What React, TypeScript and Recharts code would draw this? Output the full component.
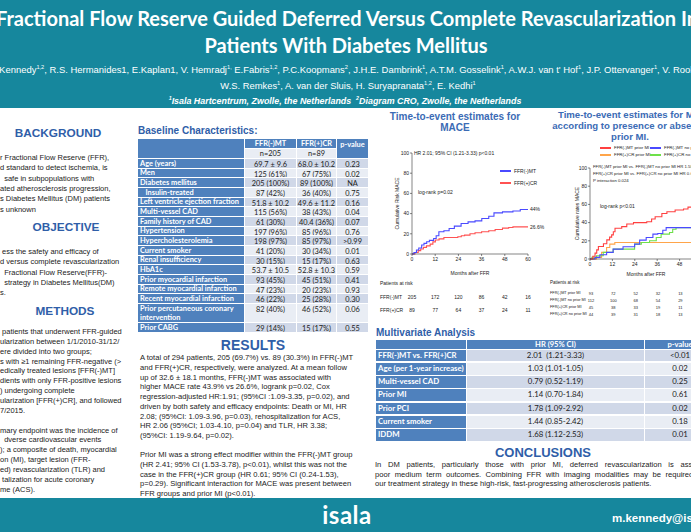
import React from 'react';
import { LineChart, Line, XAxis, YAxis, Label } from 'recharts';

const TEAL = '#16879d';
const HEAD = '#2f5ea8';
const CELL_BLUE = '#4f81bd';
const CELL_DARK = '#d0d8e8';
const CELL_LIGHT = '#e9edf4';

const monthTicks = [0, 12, 24, 36, 48, 60];
const riskTicks = [0, 20, 40, 60, 80, 100];

// MACE by FFR strategy (months after FFR, cumulative %)
const mtMonths = [0, 1, 2.3, 3.5, 5, 6.2, 7.6, 9, 11.2, 12.5, 13.9, 16.5, 19.2, 21.9, 25.4, 29, 32.6, 36.1, 39.7, 42.4, 46.8, 52.2, 56, 60];
const mtRisk = [0, 1.5, 3.9, 6, 8.9, 10.5, 12.1, 13.5, 15.4, 18, 22, 23, 25.3, 27.6, 30.2, 31.8, 32.8, 35.1, 37.4, 40.7, 41.7, 42.6, 44, 44];
const crMonths = [0, 1.5, 3.2, 4.5, 5.9, 7.5, 9.4, 10.8, 12.1, 14, 16.5, 23.7, 25.5, 27.2, 30, 32.6, 36, 39.7, 43, 46.8, 50, 52.2, 60];
const crRisk = [0, 1.5, 3.3, 5, 6.6, 8, 9.8, 12, 13.8, 15, 16.4, 17.1, 18, 18.7, 20, 21, 22, 23, 24.3, 25.6, 26.2, 26.9, 26.9];

// MACE by prior MI
const mtPriorMonths = [0, 1.5, 2.7, 3.6, 4.5, 7.2, 9, 10.5, 11.6, 12.5, 13.4, 17, 19.7, 23.3, 30.4, 33, 34.9, 38.5, 41.2, 45.6, 50.1, 52.5, 60];
const mtPriorRisk = [0, 3, 6.5, 10, 13.8, 16.7, 21, 24, 26.5, 30, 33.8, 35.6, 38.5, 40, 41, 44, 46.5, 50, 52, 53.8, 55, 57, 58];
const mtNoPriorMonths = [0, 2.7, 5.3, 8.9, 12.4, 17.7, 23.9, 26.6, 30.1, 33.7, 36.3, 39, 40.8, 60];
const mtNoPriorRisk = [0, 1.8, 4.7, 7.3, 10.9, 13.5, 16.4, 20.7, 23.6, 27.3, 28, 31.6, 34.5, 34.5];
const crPriorMonths = [0, 3.5, 6.2, 8.9, 10.6, 13.3, 60];
const crPriorRisk = [0, 1.8, 7.3, 12.7, 16.4, 18.2, 18.2];
const crNoPriorMonths = [0, 1, 3.5, 7.1, 12.4, 23.9, 27.5, 31.9, 35.5, 38.1, 42.6, 44.3, 46.1, 60];
const crNoPriorRisk = [0, 2, 3.6, 7.3, 10.9, 16.4, 18.2, 20, 23.6, 27.3, 29.1, 32.7, 34.5, 34.5];

const atRisk1 = [
  { name: 'FFR(-)MT', n: [205, 172, 120, 86, 42, 16] },
  { name: 'FFR(+)CR', n: [89, 77, 64, 37, 24, 11] },
];
const atRisk2 = [
  { name: 'FFR(-)MT prior MI', n: [93, 72, 52, 32, 13] },
  { name: 'FFR(-)MT no prior MI', n: [112, 100, 68, 54, 29] },
  { name: 'FFR(+)CR prior MI', n: [45, 38, 33, 19, 11] },
  { name: 'FFR(+)CR no prior MI', n: [44, 39, 31, 18, 13] },
];

const baseLabels = ['Age (years)', 'Men', 'Diabetes mellitus', '   Insulin-treated', 'Left ventricle ejection fraction', 'Multi-vessel CAD', 'Family history of CAD', 'Hypertension', 'Hypercholesterolemia', 'Current smoker', 'Renal insufficiency', 'HbA1c', 'Prior myocardial infarction', 'Remote myocardial infarction', 'Recent myocardial infarction', 'Prior percutaneous coronary intervention', 'Prior CABG'];
const baseMT = ['69.7 ± 9.6', '125 (61%)', '205 (100%)', '87 (42%)', '51.8 ± 10.2', '115 (56%)', '61 (30%)', '197 (96%)', '198 (97%)', '41 (20%)', '30 (15%)', '53.7 ± 10.5', '93 (45%)', '47 (23%)', '46 (22%)', '82 (40%)', '29 (14%)'];
const baseCR = ['68.0 ± 10.2', '67 (75%)', '89 (100%)', '36 (40%)', '49.6 ± 11.2', '38 (43%)', '40.4 (36%)', '85 (96%)', '85 (97%)', '30 (34%)', '15 (17%)', '52.8 ± 10.3', '45 (51%)', '20 (23%)', '25 (28%)', '46 (52%)', '15 (17%)'];
const baseP = ['0.23', '0.02', 'NA', '0.75', '0.16', '0.04', '0.07', '0.76', '>0.99', '0.01', '0.63', '0.59', '0.41', '0.93', '0.30', '0.06', '0.55'];

const mvLabels = ['FFR(-)MT vs. FFR(+)CR', 'Age (per 1-year increase)', 'Multi-vessel CAD', 'Prior MI', 'Prior PCI', 'Current smoker', 'IDDM'];
const mvHR = ['2.01  (1.21-3.33)', '1.03 (1.01-1.05)', '0.79 (0.52-1.19)', '1.14 (0.70-1.84)', '1.78 (1.09-2.92)', '1.44 (0.85-2.42)', '1.68 (1.12-2.53)'];
const mvP = ['<0.01', '0.02', '0.25', '0.61', '0.02', '0.18', '0.01'];

const backgroundText = ['r Fractional Flow Reserve (FFR),', 'd standard to detect ischemia, is', '  safe in subpopulations with', 'ated atherosclerosis progression,', 's Diabetes Mellitus (DM) patients', 's unknown'];
const objectiveText = [' ess the safety and efficacy of', 'd versus complete revascularization', '  Fractional Flow Reserve(FFR)-', '  strategy in Diabetes Mellitus(DM)', 's.'];
const methodsText = [' patients that underwent FFR-guided', 'ularization between 1/1/2010-31/12/', 'ere divided into two groups;', 's with ≥1 remaining FFR-negative (>', 'edically treated lesions [FFR(-)MT]', 'dients with only FFR-positive lesions', ') undergoing complete', 'ularization [FFR(+)CR], and followed', '7/2015.', '', 'mary endpoint was the incidence of', '  dverse cardiovascular events', '); a composite of death, myocardial', 'on (MI), target lesion (FFR-', 'ed) revascularization (TLR) and', ' talization for acute coronary', 'me (ACS).'];

const resultsText = [
  'A total of 294 patients, 205 (69.7%) vs. 89 (30.3%) in FFR(-)MT',
  'and FFR(+)CR, respectively, were analyzed. At a mean follow',
  'up of 32.6 ± 18.1 months, FFR(-)MT was associated with',
  'higher MACE rate 43.9% vs 26.6%, logrank p=0.02, Cox',
  'regression-adjusted HR:1.91; (95%CI :1.09-3.35, p=0.02), and',
  'driven by both safety and efficacy endpoints: Death or MI, HR',
  '2.08; (95%CI: 1.09-3.96, p=0.03), rehospitalization for ACS,',
  'HR 2.06 (95%CI; 1.03-4.10, p=0.04) and TLR, HR 3.38;',
  '(95%CI: 1.19-9.64, p=0.02).',
  '',
  'Prior MI was a strong effect modifier within the FFR(-)MT group',
  '(HR 2.41; 95% CI (1.53-3.78), p<0.01), whilst this was not the',
  'case in the FFR(+)CR group (HR 0.61; 95% CI (0.24-1.53),',
  'p=0.29). Significant interaction for MACE was present between',
  'FFR groups and prior MI (p<0.01).',
];

const conclusionText = [
  'In DM patients, particularly those with prior MI, deferred revascularization is associated with',
  'poor medium term outcomes. Combining FFR with imaging modalities may be required to optimize',
  'our treatment strategy in these high-risk, fast-progressing atherosclerosis patients.',
];

const toKm = (m: number[], v: number[]) => m.map((x, i) => ({ m: x, v: v[i] }));

type TP = { x: number; y: number; s: number; c?: string; b?: boolean; i?: boolean; a?: 'l' | 'c' | 'r'; f?: string; children: React.ReactNode; st?: React.CSSProperties };
const T = ({ x, y, s, c = '#222', b, i, a = 'l', f, children, st }: TP) => (
  <div
    style={{
      position: 'absolute', left: x, top: y, fontSize: s, color: c, fontWeight: b ? 700 : 400,
      fontStyle: i ? 'italic' : 'normal', whiteSpace: 'pre', lineHeight: 1, fontFamily: f,
      transform: `translate(${a === 'c' ? '-50%' : a === 'r' ? '-100%' : '0'}, -50%)`, ...st,
    }}
  >
    {children}
  </div>
);

const Sup = ({ children }: { children: React.ReactNode }) => (
  <sup style={{ fontSize: '0.6em', verticalAlign: 'super', lineHeight: 0 }}>{children}</sup>
);

const Box = ({ x, y, w, h, bg, children, a = 'c', c = '#222', b, s = 7.4 }: any) => (
  <div
    style={{
      position: 'absolute', left: x, top: y, width: w, height: h, background: bg, color: c,
      fontWeight: b ? 700 : 400, fontSize: s, fontFamily: 'Lato, sans-serif', display: 'flex',
      alignItems: 'center', justifyContent: a === 'c' ? 'center' : 'flex-start', paddingLeft: a === 'c' ? 0 : 2,
      boxSizing: 'border-box', whiteSpace: 'pre-wrap', lineHeight: 1.25, overflow: 'hidden',
    }}
  >
    {children}
  </div>
);

const LegendLine = ({ x, y, color, label, s = 5 }: any) => (
  <>
    <div style={{ position: 'absolute', left: x, top: y - 0.6, width: 11, height: 1.2, background: color }} />
    <T x={x + 14} y={y} s={s}>{label}</T>
  </>
);

const axisTick = { fontSize: 5, fill: '#222' };

const BaselineTable = () => {
  const cols = [138, 245, 297, 337, 368];
  const rowH = 9.67;
  const top = 139;
  const cells: React.ReactNode[] = [];
  const topAligned = (v: string) => <span style={{ alignSelf: 'flex-start', marginTop: 1 }}>{v}</span>;
  cells.push(<Box key="h0" x={cols[0]} y={top} w={cols[1] - cols[0] - 1} h={19} bg={CELL_BLUE} />);
  cells.push(<Box key="h1" x={cols[1]} y={top} w={cols[2] - cols[1] - 1} h={9} bg={CELL_BLUE} c="#fff" b>FFR(-)MT</Box>);
  cells.push(<Box key="h2" x={cols[2]} y={top} w={cols[3] - cols[2] - 1} h={9} bg={CELL_BLUE} c="#fff" b>FFR(+)CR</Box>);
  cells.push(<Box key="h3" x={cols[3]} y={top} w={cols[4] - cols[3]} h={19} bg={CELL_BLUE} c="#fff" b>{topAligned('p-value')}</Box>);
  cells.push(<Box key="n1" x={cols[1]} y={top + 10} w={cols[2] - cols[1] - 1} h={9} bg={CELL_LIGHT}>n=205</Box>);
  cells.push(<Box key="n2" x={cols[2]} y={top + 10} w={cols[3] - cols[2] - 1} h={9} bg={CELL_LIGHT}>n=89</Box>);
  let y = top + 20;
  baseLabels.forEach((lab, i) => {
    const h = lab.startsWith('Prior percutaneous') ? rowH * 2 : rowH;
    const bg = i % 2 === 0 ? CELL_DARK : CELL_LIGHT;
    cells.push(<Box key={`l${i}`} x={cols[0]} y={y} w={cols[1] - cols[0] - 1} h={h - 1} bg={CELL_BLUE} c="#fff" b a="l">{lab}</Box>);
    cells.push(<Box key={`a${i}`} x={cols[1]} y={y} w={cols[2] - cols[1] - 1} h={h - 1} bg={bg}>{topAligned(baseMT[i])}</Box>);
    cells.push(<Box key={`b${i}`} x={cols[2]} y={y} w={cols[3] - cols[2] - 1} h={h - 1} bg={bg}>{topAligned(baseCR[i])}</Box>);
    cells.push(<Box key={`c${i}`} x={cols[3]} y={y} w={cols[4] - cols[3]} h={h - 1} bg={bg}>{topAligned(baseP[i])}</Box>);
    y += h;
  });
  return <>{cells}</>;
};

const MultiTable = () => {
  const cols = [376, 467, 645, 715];
  const top = 340;
  const rowH = 13.3;
  const cells: React.ReactNode[] = [];
  cells.push(<Box key="h0" x={cols[0]} y={top} w={cols[1] - cols[0] - 1} h={9} bg={CELL_BLUE} />);
  cells.push(<Box key="h1" x={cols[1]} y={top} w={cols[2] - cols[1] - 1} h={9} bg={CELL_BLUE} c="#fff" b s={7.6}>HR (95% CI)</Box>);
  cells.push(<Box key="h2" x={cols[2]} y={top} w={cols[3] - cols[2]} h={9} bg={CELL_BLUE} c="#fff" b s={7.6}>p-value</Box>);
  mvLabels.forEach((lab, i) => {
    const y = top + 9.5 + i * rowH;
    const bg = i % 2 === 0 ? CELL_DARK : CELL_LIGHT;
    cells.push(<Box key={`l${i}`} x={cols[0]} y={y} w={cols[1] - cols[0] - 1} h={rowH - 1.5} bg={CELL_BLUE} c="#fff" b a="l" s={7.8}>{lab}</Box>);
    cells.push(<Box key={`h${i}`} x={cols[1]} y={y} w={cols[2] - cols[1] - 1} h={rowH - 1.5} bg={bg} s={7.8}>{mvHR[i]}</Box>);
    cells.push(<Box key={`p${i}`} x={cols[2]} y={y} w={cols[3] - cols[2]} h={rowH - 1.5} bg={bg} s={7.8}>{mvP[i]}</Box>);
  });
  return <>{cells}</>;
};

const MaceChart = () => (
  <div style={{ position: 'absolute', left: 370, top: 140 }}>
    <LineChart width={170} height={152} margin={{ top: 13, right: 12, left: 12, bottom: 0 }}>
      <XAxis dataKey="m" type="number" domain={[0, 60]} ticks={monthTicks} interval={0} height={38}
        tick={axisTick} tickSize={2} tickMargin={1} stroke="#333" strokeWidth={0.6}>
        <Label value="Months after FFR" position="center" fontSize={5} fill="#222" />
      </XAxis>
      <YAxis type="number" domain={[0, 100]} ticks={riskTicks} interval={0} width={30}
        tick={axisTick} tickSize={2} tickMargin={1} stroke="#333" strokeWidth={0.6}>
        <Label value="Cumulative Risk MACE" angle={-90} position="center" fontSize={5} fill="#222" />
      </YAxis>
      <Line data={toKm(crMonths, crRisk)} dataKey="v" type="stepAfter" stroke="#ff5252" strokeWidth={1.1} dot={false} isAnimationActive={false} />
      <Line data={toKm(mtMonths, mtRisk)} dataKey="v" type="stepAfter" stroke="#4a4aff" strokeWidth={1.1} dot={false} isAnimationActive={false} />
    </LineChart>
  </div>
);

const PriorMiChart = () => (
  <div style={{ position: 'absolute', left: 540, top: 150 }}>
    <LineChart width={170} height={139} margin={{ top: 18, right: 8, left: 24, bottom: 0 }}>
      <XAxis dataKey="m" type="number" domain={[0, 60]} ticks={monthTicks} interval={0} height={30}
        tick={axisTick} tickSize={2} tickMargin={1} stroke="#333" strokeWidth={0.6}>
        <Label value="Months after FFR" position="center" fontSize={5} fill="#222" />
      </XAxis>
      <YAxis type="number" domain={[0, 100]} ticks={riskTicks} interval={0} width={26}
        tick={axisTick} tickSize={2} tickMargin={1} stroke="#333" strokeWidth={0.6}>
        <Label value="Cumulative rates MACE" angle={-90} position="center" fontSize={5} fill="#222" />
      </YAxis>
      <Line data={toKm(crPriorMonths, crPriorRisk)} dataKey="v" type="stepAfter" stroke="#ffa54a" strokeWidth={1.1} dot={false} isAnimationActive={false} />
      <Line data={toKm(crNoPriorMonths, crNoPriorRisk)} dataKey="v" type="stepAfter" stroke="#6ee04a" strokeWidth={1.1} dot={false} isAnimationActive={false} />
      <Line data={toKm(mtNoPriorMonths, mtNoPriorRisk)} dataKey="v" type="stepAfter" stroke="#4a4aff" strokeWidth={1.1} dot={false} isAnimationActive={false} />
      <Line data={toKm(mtPriorMonths, mtPriorRisk)} dataKey="v" type="stepAfter" stroke="#ff4040" strokeWidth={1.1} dot={false} isAnimationActive={false} />
    </LineChart>
  </div>
);

const App = () => {
  const arial = '"Liberation Sans", Arial, sans-serif';
  const lato = 'Lato, sans-serif';
  const p1 = { left: 412, w: 116 };
  const p2 = { left: 590, w: 111.7 };
  return (
    <div style={{ position: 'fixed', left: 0, top: 0, width: 691, height: 532, overflow: 'hidden', background: '#fff', fontFamily: arial }}>
      {/* header */}
      <div style={{ position: 'absolute', left: 0, top: 0, width: 691, height: 108, background: TEAL }} />
      <T x={347} y={18} s={20} c="#fff" b a="c" f={lato}>Fractional Flow Reserve Guided Deferred Versus Complete Revascularization In</T>
      <T x={346} y={45} s={20} c="#fff" b a="c" f={lato}>Patients With Diabetes Mellitus</T>
      <T x={-14} y={70} s={9.45} c="#fff">
        M. Kennedy<Sup>1,2</Sup>, R.S. Hermanides1, E.Kaplan1, V. Hemradj<Sup>1,</Sup> E.Fabris<Sup>1,2</Sup>, P.C.Koopmans<Sup>2</Sup>, J.H.E. Dambrink<Sup>1</Sup>, A.T.M. Gosselink<Sup>1</Sup>, A.W.J. van t' Hof<Sup>1</Sup>, J.P. Ottervanger<Sup>1</Sup>, V. Roolvink<Sup>1</Sup>,
      </T>
      <T x={348} y={86} s={9.4} c="#fff" a="c">
        W.S. Remkes<Sup>1</Sup>, A. van der Sluis, H. Suryapranata<Sup>1,2</Sup>, E. Kedhi<Sup>1</Sup>
      </T>
      <T x={345} y={101} s={8.9} c="#fff" b i a="c">
        <Sup>1</Sup>Isala Hartcentrum, Zwolle, the Netherlands  <Sup>2</Sup>Diagram CRO, Zwolle, the Netherlands
      </T>

      {/* left column */}
      <T x={58} y={134} s={11.8} c={HEAD} b a="c">BACKGROUND</T>
      {backgroundText.map((l, i) => <T key={`bg${i}`} x={0} y={158 + i * 10.3} s={7.5} c="#222">{l}</T>)}
      <T x={66} y={228} s={11.8} c={HEAD} b a="c">OBJECTIVE</T>
      {objectiveText.map((l, i) => <T key={`ob${i}`} x={0} y={252 + i * 10.3} s={7.5} c="#222">{l}</T>)}
      <T x={65} y={312} s={11.8} c={HEAD} b a="c">METHODS</T>
      {methodsText.map((l, i) => <T key={`me${i}`} x={0} y={332 + i * 9.85} s={7.5} c="#222">{l}</T>)}

      {/* middle column */}
      <T x={138} y={131} s={10} c={HEAD} b>Baseline Characteristics:</T>
      <BaselineTable />
      <T x={253} y={345} s={14} c={HEAD} b a="c">RESULTS</T>
      {resultsText.map((l, i) => <T key={`rs${i}`} x={140} y={358.3 + i * 9.7} s={7.6} c="#222">{l}</T>)}

      {/* right column: charts */}
      <T x={455} y={117} s={10} c="#3b6bb5" b a="c">Time-to-event estimates for</T>
      <T x={455} y={128} s={10} c="#3b6bb5" b a="c">MACE</T>
      <MaceChart />
      <T x={414} y={153} s={5}>HR 2.01; 95% CI (1.21-3.33) p&lt;0.01</T>
      <T x={418} y={192} s={5}>log-rank p=0.02</T>
      <LegendLine x={500} y={171} color="#4a4aff" label="FFR(-)MT" />
      <LegendLine x={500} y={183} color="#ff5252" label="FFR(+)CR" />
      <T x={530} y={209} s={5}>44%</T>
      <T x={530} y={227} s={5}>26.6%</T>
      <T x={380} y={283} s={5}>Patients at risk</T>
      {atRisk1.map((r, ri) => (
        <React.Fragment key={`r1${ri}`}>
          <T x={380} y={297 + ri * 13} s={5}>{r.name}</T>
          {r.n.map((n, i) => <T key={i} x={p1.left + (monthTicks[i] / 60) * p1.w} y={297 + ri * 13} s={5} a="c">{n}</T>)}
        </React.Fragment>
      ))}

      <T x={636} y={115} s={9.6} c="#3b6bb5" b a="c">Time-to-event estimates for MACE</T>
      <T x={636} y={126} s={9.6} c="#3b6bb5" b a="c">according to presence or absence of</T>
      <T x={630} y={137} s={9.6} c="#3b6bb5" b a="c">prior MI.</T>
      <LegendLine x={600} y={148} color="#ff4040" label="FFR(-)MT prior MI" s={4.4} />
      <LegendLine x={650} y={148} color="#4a4aff" label="FFR(-)MT no prior MI" s={4.4} />
      <LegendLine x={600} y={155} color="#ffa54a" label="FFR(+)CR prior MI" s={4.4} />
      <LegendLine x={650} y={155} color="#6ee04a" label="FFR(+)CR no prior MI" s={4.4} />
      <PriorMiChart />
      <T x={593} y={167} s={4.3}>FFR(-)MT prior MI vs. FFR(-)MT no prior MI HR 1.58; 95% CI (1.26-3.06)</T>
      <T x={593} y={174} s={4.3}>FFR(+)CR prior MI vs. FFR(+)CR no prior MI HR 0.66; 95% CI (0.27-1.61)</T>
      <T x={593} y={181} s={4.3}>P interaction 0.024</T>
      <T x={600} y={206} s={5}>log-rank p&lt;0.01</T>
      <T x={550} y={283} s={4.5}>Patients at risk</T>
      {atRisk2.map((r, ri) => (
        <React.Fragment key={`r2${ri}`}>
          <T x={550} y={294 + ri * 7} s={3.8}>{r.name}</T>
          {r.n.map((n, i) => <T key={i} x={p2.left + 1 + (monthTicks[i] / 60) * p2.w} y={294 + ri * 7} s={4} a="c">{n}</T>)}
        </React.Fragment>
      ))}

      {/* multivariate */}
      <T x={376} y={333} s={10} c={HEAD} b>Multivariate Analysis</T>
      <MultiTable />
      <T x={543} y={452} s={13} c={HEAD} b a="c">CONCLUSIONS</T>
      {conclusionText.map((l, i) => (
        <div key={`cc${i}`} style={{ position: 'absolute', left: 375, top: 465 + i * 9.6, width: 362, transform: 'translateY(-50%)', fontSize: 7.6, lineHeight: 1, color: '#222', whiteSpace: 'nowrap', textAlign: i < 2 ? 'justify' : 'left', textAlignLast: i < 2 ? 'justify' : 'left' } as React.CSSProperties}>{l}</div>
      ))}

      {/* footer */}
      <div style={{ position: 'absolute', left: 0, top: 498, width: 691, height: 34, background: TEAL }} />
      <T x={347} y={515} s={24} c="#fff" b a="c" f={lato} st={{ letterSpacing: 0.5 }}>isala</T>
      <T x={612} y={519} s={11.5} c="#fff" b>m.kennedy@isala.nl</T>
    </div>
  );
};

export default App;
